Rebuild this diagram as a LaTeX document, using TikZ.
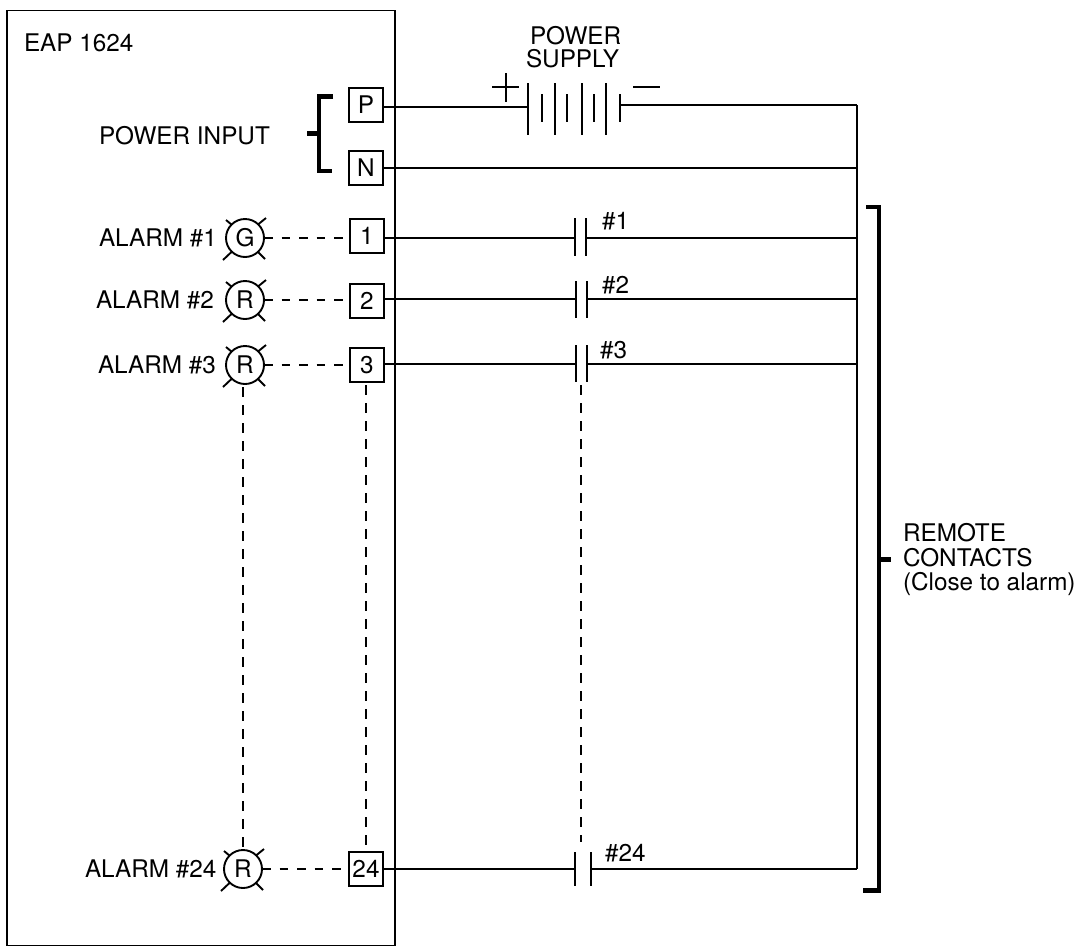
\documentclass[tikz,border=0pt]{standalone}
\usepackage{fontspec}
\setmainfont{TeX Gyre Heros}
\begin{document}
\begin{tikzpicture}[x=1pt,y=-1pt,line cap=butt,
  every node/.style={inner sep=0pt,outer sep=0pt,font=\fontsize{24.3}{24.3}\selectfont},
  wire/.style={line width=1.9pt,black},
  term/.style={draw,line width=1.9pt,minimum width=34pt,minimum height=34pt},
  lamp/.style={draw,circle,line width=1.9pt,minimum size=38pt},
  lab/.style={anchor=base west},
  dashh/.style={line width=1.9pt,dash pattern=on 8.5pt off 9pt},
  dashv/.style={line width=1.9pt,dash pattern=on 9.5pt off 8.5pt},
  brk/.style={line width=4.4pt,line cap=butt,line join=miter},
  panel/.style={draw,line width=1.9pt,minimum width=388pt,minimum height=935pt}]
\useasboundingbox (0,0) rectangle (1076,948);
\node[panel] (box) at (201,478) {};
\node[lab] (eap) at (24,51) {EAP 1624};
\node[lab] (pwrin) at (99,144) {POWER INPUT};
\node[lab] (ps1) at (530,44) {POWER};
\node[lab] (ps2) at (526,67) {SUPPLY};
% terminals
\node[term] (P) at (366,105) {P};
\node[term] (N) at (366,168) {N};
\node[term] (T1) at (367,236) {1};
\node[term] (T2) at (367,301) {2};
\node[term] (T3) at (367,365) {3};
\node[term] (T24) at (366,869) {24};
% lamps
\node[lamp] (L1) at (245,238) {G};
\node[lamp] (L2) at (245,300) {R};
\node[lamp] (L3) at (245,365) {R};
\node[lamp] (L24) at (243,869) {R};
\foreach \L in {L1,L2,L3,L24}{
  \draw[wire] (\L.center) ++(-19,-18) -- ++(6,5);
  \draw[wire] (\L.center) ++(21,-20) -- ++(-8,6.5);
  \draw[wire] (\L.center) ++(-22,22) -- ++(9,-8.5);
  \draw[wire] (\L.center) ++(20,21) -- ++(-7,-7);
}
\node[lab] (a1) at (99,246) {ALARM \#1};
\node[lab] (a2) at (96,308) {ALARM \#2};
\node[lab] (a3) at (98,373) {ALARM \#3};
\node[lab] (a24) at (85,877) {ALARM \#24};
\draw[dashh] (L1.east) -- (L1.east -| T1.west);
\draw[dashh] (L2.east) -- (L2.east -| T2.west);
\draw[dashh] (L3.east) -- (L3.east -| T3.west);
\draw[dashh] (L24.east) -- (L24.east -| T24.west);
\coordinate (v1) at (243,387);
\coordinate (v2) at (243,850);
\draw[dashv] (v1) -- (v2);
\coordinate (v3) at (366,385);
\coordinate (v4) at (366,852);
\draw[dashv] (v3) -- (v4);
% battery
\coordinate (bp) at (528,107);
\coordinate (bn) at (620,105);
\coordinate (rail) at (857,105);
\draw[wire] (P.east |- bp) -- (bp);
\draw[wire] (bn) -- (rail);
\draw[wire] (N.east) -- (N.east -| rail);
\draw[wire] (rail) -- (857,869);
\foreach \x in {528,555,582,606} \draw[wire] (\x,83) -- (\x,135);
\foreach \x in {542,567,594,620} \draw[wire] (\x,94) -- (\x,122);
\draw[wire] (492,87) -- (519,87);
\draw[wire] (506,73) -- (506,102);
\draw[wire] (633,87) -- (660,87);
% contacts
\coordinate (c1l) at (575,238); \coordinate (c1r) at (586,238);
\coordinate (c2l) at (576,299); \coordinate (c2r) at (587,299);
\coordinate (c3l) at (576,364); \coordinate (c3r) at (587,364);
\coordinate (c24l) at (575,869); \coordinate (c24r) at (591,869);
\foreach \c in {c1,c2,c3,c24}{
  \draw[wire] (T1.east |- \c l) -- (\c l);
  \draw[wire] (\c r) -- (\c r -| rail);
}
\foreach \c/\a/\b in {c1/-20/18,c2/-18/19,c3/-19/18,c24/-17/17}{
  \draw[wire] (\c l) ++(0,\a) -- ++(0,\b-\a);
  \draw[wire] (\c r) ++(0,\a) -- ++(0,\b-\a);
}
\node[lab] (k1) at (602,229) {\#1};
\node[lab] (k2) at (602,293) {\#2};
\node[lab] (k3) at (600,358) {\#3};
\node[lab] (k24) at (605,861) {\#24};
\coordinate (d1) at (581,385);
\coordinate (d2) at (581,842);
\draw[dashv] (d1) -- (d2);
% brackets
\draw[brk] (333,96.5) -- (319,96.5) -- (319,171) -- (332,171);
\draw[brk] (307,133.5) -- (319,133.5);
\draw[brk] (866,207) -- (878.7,207) -- (878.7,890.5) -- (863,890.5);
\draw[brk] (878.7,559.5) -- (891,559.5);
\node[lab] (r1) at (903,541) {REMOTE};
\node[lab] (r2) at (903,566) {CONTACTS};
\node[lab] (r3) at (903,590) {(Close to alarm)};
\end{tikzpicture}
\end{document}
